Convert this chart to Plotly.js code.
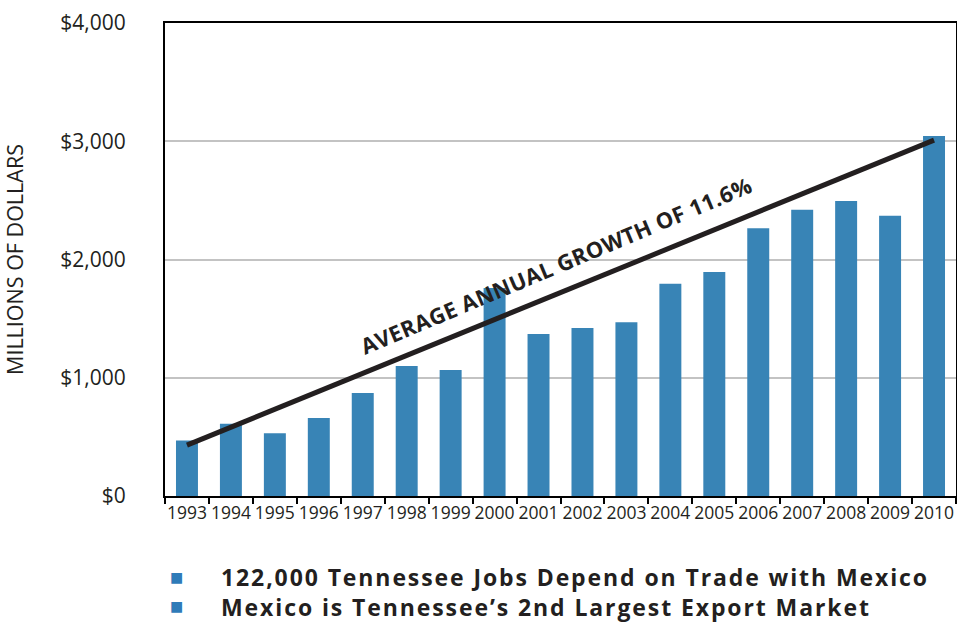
<!DOCTYPE html>
<html>
<head>
<meta charset="utf-8">
<script src="https://cdn.plot.ly/plotly-3.0.1.min.js"></script>
<style>html,body{margin:0;padding:0;background:#fff;}#chart{width:957px;height:622px;}</style>
</head>
<body>
<div id="chart"></div>
<script>
const years = ['1993','1994','1995','1996','1997','1998','1999','2000','2001','2002','2003','2004','2005','2006','2007','2008','2009','2010'];
const exportsMillions = [470, 610, 530, 660, 870, 1100, 1065, 1760, 1370, 1420, 1470, 1795, 1895, 2265, 2420, 2495, 2370, 3045];
const trendYears = ['1993', '2010'];
const trendValues = [430, 3010];
const trendLabel = 'AVERAGE ANNUAL GROWTH OF 11.6%';
const notes = ['122,000 Tennessee Jobs Depend on Trade with Mexico', 'Mexico is Tennessee’s 2nd Largest Export Market'];
const yTicks = [0, 1000, 2000, 3000, 4000];
const yTickLabels = ['$0', '$1,000', '$2,000', '$3,000', '$4,000'];

const ink = '#231f20';
const blue = '#3884b6';
const font = '"Open Sans", Lato, sans-serif';

const traces = [
  {type: 'bar', x: years, y: exportsMillions, marker: {color: blue}, hoverinfo: 'x+y', showlegend: false},
  {type: 'scatter', mode: 'lines', x: trendYears, y: trendValues, line: {color: ink, width: 5}, showlegend: false, hoverinfo: 'skip'}
];

const annotations = [
  {xref: 'paper', yref: 'paper', x: 0.494, y: 0.488,
   text: '<b><span style="letter-spacing:0.4px">' + trendLabel + '</span></b>', showarrow: false,
   textangle: -22.8, font: {family: font, size: 22, color: ink}}
];
const noteY = [577, 606];
notes.forEach((n, i) => {
  const yp = -(noteY[i] - 496) / 472.7;
  annotations.push({xref: 'paper', yref: 'paper', x: (176 - 165) / 790.7, y: yp,
    text: '■', showarrow: false, font: {family: 'DejaVu Sans', size: 14, color: '#2f7bb8'}, xanchor: 'center', yanchor: 'middle'});
});
annotations.push({xref: 'paper', yref: 'paper', x: (219 - 165) / 790.7, y: -((noteY[0] + noteY[1]) / 2 - 496) / 472.7,
  text: notes.map(n => '<b><span style="letter-spacing:1.9px">' + n + '</span></b>').join('<br>'),
  showarrow: false, align: 'left', font: {family: font, size: 23, color: ink}, xanchor: 'left', yanchor: 'middle'});

const layout = {
  width: 957, height: 622,
  margin: {l: 165, r: 1, t: 23, b: 126},
  paper_bgcolor: '#fff', plot_bgcolor: '#fff',
  bargap: 0.5,
  font: {family: font, color: ink},
  xaxis: {type: 'category', categoryorder: 'array', categoryarray: years,
    showline: true, linecolor: '#000', linewidth: 2, mirror: true,
    ticks: 'outside', tickson: 'boundaries', ticklen: 6, tickwidth: 2, tickcolor: '#000', tickangle: 0,
    tickfont: {family: font, size: 17.5, color: ink}, showgrid: false, fixedrange: true},
  yaxis: {range: [0, 4000], tickvals: yTicks, ticktext: yTickLabels,
    showline: true, linecolor: '#000', linewidth: 2, mirror: true,
    gridcolor: '#c3c3c3', gridwidth: 2, zeroline: false, ticks: '', ticklabelstandoff: 33,
    tickfont: {family: font, size: 21, color: ink},
    title: {text: 'MILLIONS OF DOLLARS', font: {family: font, size: 21.5, color: ink}, standoff: 36},
    fixedrange: true},
  annotations: annotations
};

Plotly.newPlot('chart', traces, layout, {displayModeBar: false, responsive: false});
</script>
</body>
</html>
